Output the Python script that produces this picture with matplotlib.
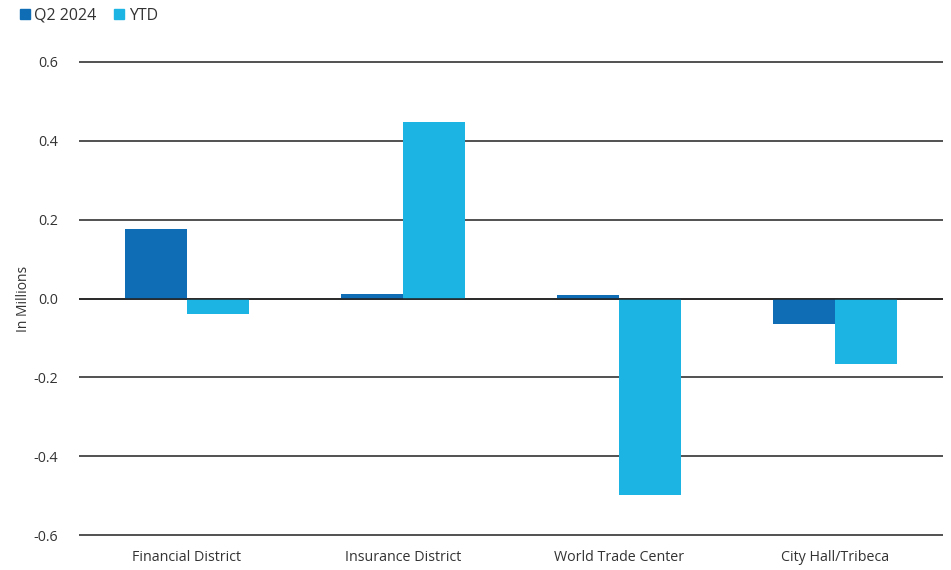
import matplotlib
matplotlib.use("Agg")
import matplotlib.pyplot as plt
import numpy as np
from matplotlib.patches import Patch

plt.rcParams['font.family'] = ['Open Sans', 'DejaVu Sans']

# submarket absorption, in millions of sq ft
districts = ["Financial District", "Insurance District", "World Trade Center", "City Hall/Tribeca"]
q2_2024 = [0.177, 0.011, 0.009, -0.064]
ytd = [-0.040, 0.447, -0.498, -0.167]

dark_blue = "#0F6DB5"
light_blue = "#1CB5E3"
text_col = "#333333"

fig = plt.figure(figsize=(9.51, 5.70), dpi=100)
ax = fig.add_axes([79 / 951, 1 - 540 / 570, (943 - 79) / 951, (540 - 57) / 570])

x = np.arange(len(districts))
w = 0.285
ax.bar(x - w / 2, q2_2024, width=w, color=dark_blue, zorder=3)
ax.bar(x + w / 2, ytd, width=w, color=light_blue, zorder=3)

ax.set_xlim(-0.5, len(districts) - 0.5)
ax.set_ylim(-0.612, 0.612)
ticks = [-0.6, -0.4, -0.2, 0.0, 0.2, 0.4, 0.6]
ax.set_yticks(ticks)
ax.set_yticklabels([f"{t:.1f}" for t in ticks])
ax.yaxis.grid(True, color="#222222", linewidth=1.1, zorder=1)
ax.set_axisbelow(True)
ax.axhline(0, color="#222222", linewidth=1.1, zorder=4)

ax.set_xticks(x)
ax.set_xticklabels(districts)
ax.tick_params(axis="both", length=0, labelsize=10.3, colors=text_col)
ax.tick_params(axis="y", pad=15)
ax.tick_params(axis="x", pad=7)
for s in ax.spines.values():
    s.set_visible(False)

ax.set_ylabel("In Millions", fontsize=10, color=text_col)
ax.yaxis.set_label_coords(-(79 - 31) / 864, 0.5)

handles = [Patch(color=dark_blue, label="Q2 2024"), Patch(color=light_blue, label="YTD")]
fig.legend(handles=handles, loc="upper left", bbox_to_anchor=(0.006, 1.012), ncol=2,
           frameon=False, fontsize=11.5, handlelength=0.6, handleheight=0.6,
           handletextpad=0.3, columnspacing=1.1, labelcolor=text_col)

fig.savefig("out.png", dpi=100)
